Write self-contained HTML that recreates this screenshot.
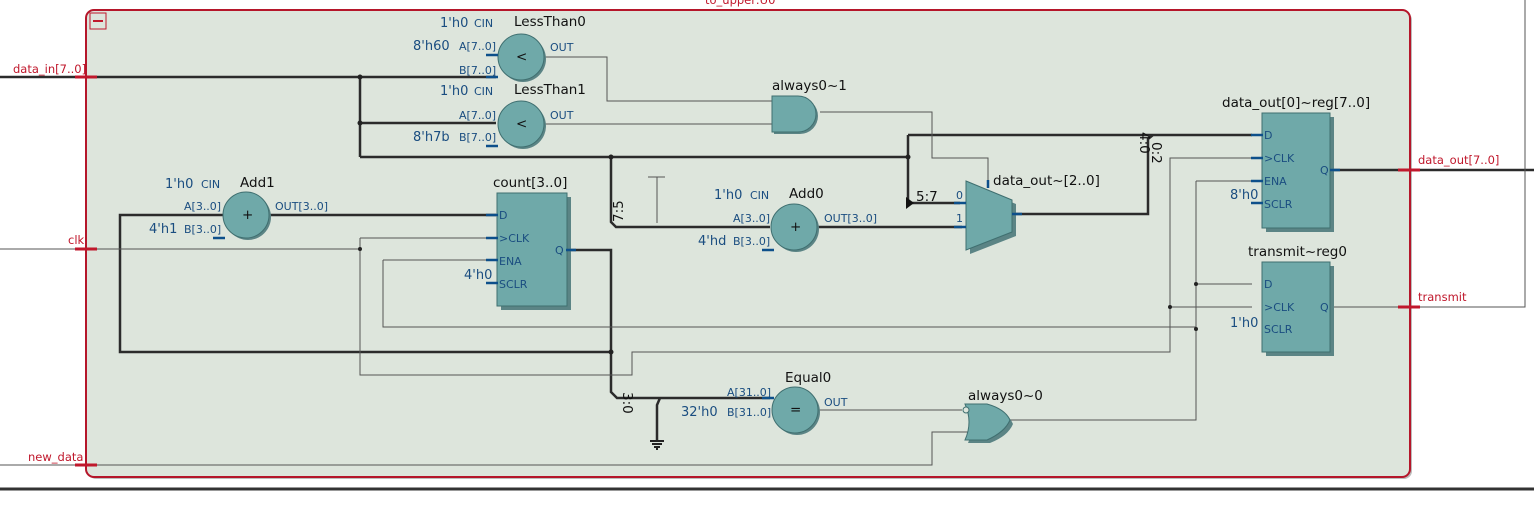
<!DOCTYPE html>
<html><head><meta charset="utf-8"><style>
html,body{margin:0;padding:0;background:#fff;}
svg{display:block;font-family:"DejaVu Sans","Liberation Sans",sans-serif;}
.t{font-size:13px;fill:#1a4d80}
.s{font-size:11px;fill:#1a4d80}
.n{font-size:13.5px;fill:#111}
.r{font-size:11.5px;fill:#c0182c}
.th{stroke:#2b2b2b;stroke-width:2.5;fill:none}
.tn{stroke:#555;stroke-width:1;fill:none}
.blk{fill:#6fa9a9;stroke:#3f6f70;stroke-width:1}
.sh{fill:#5b8485}
.pin{stroke:#0d4f8a;stroke-width:2.5}
</style></head><body>
<svg width="1534" height="505" viewBox="0 0 1534 505">
<rect x="88" y="12" width="1324" height="467" rx="8" fill="#bcbcbc"/>
<rect x="86" y="10" width="1324" height="467" rx="8" fill="#dde5dc" stroke="#b5162a" stroke-width="2"/>
<text x="705" y="4" class="r" font-size="12">to_upper:U0</text>
<rect x="90" y="13" width="16" height="16" fill="none" stroke="#c0182c" stroke-width="1"/>
<line x1="93" y1="21" x2="103" y2="21" stroke="#c0182c" stroke-width="2"/>
<line x1="0" y1="489" x2="1534" y2="489" stroke="#333" stroke-width="3"/>

<!-- thick wires -->
<path class="th" d="M0 77 H496 M360 77 V157 M360 123 H496 M360 157 H908 M908 135 H1252 M908 135 V203 H960 M611 157 V222 L616 227 H770 M818 227 H962 M1015 214 H1148 V139 L1153 135"/>
<path class="th" d="M270 215 H496 M228 215 H120 V352 H611 M570 250 H611 V392 L617 398 H770 M660 398 L657 405 V440 M1330 170 H1534"/>
<polygon points="906,197 914,203 906,209" fill="#111"/>
<!-- thin wires -->
<path class="tn" d="M0 249 H360 M360 238 H496 M360 238 V375 H632 V352 H1170 V158 H1252 M1170 307 H1252 M383 260 H496 M383 260 V327 H1196 M1196 181 H1252 M1196 181 V420 H1010 M1196 284 H1252"/>
<path class="tn" d="M545 57 H607 V101 H772 M545 124 H772 M820 112 H932 V158 H988 V185 M648 177 H665 M657 177 V223 M818 410 H962 M0 465 H932 V432 H968 M1330 307 H1525 V0"/>
<circle cx="360" cy="77" r="2.5" fill="#222"/><circle cx="360" cy="123" r="2.5" fill="#222"/>
<circle cx="611" cy="157" r="2.5" fill="#222"/><circle cx="908" cy="157" r="2.5" fill="#222"/>
<circle cx="611" cy="352" r="2.5" fill="#222"/><circle cx="360" cy="249" r="2" fill="#222"/>
<circle cx="1170" cy="307" r="2" fill="#222"/><circle cx="1196" cy="284" r="2" fill="#222"/><circle cx="1196" cy="329" r="2" fill="#222"/>
<!-- ground -->
<path d="M650 441 H664 M652 444 H662 M654 447 H660 M657 447 V450" stroke="#222" stroke-width="2"/>

<!-- ports -->
<g stroke="#c0182c" stroke-width="3">
<line x1="75" y1="77" x2="97" y2="77"/><line x1="75" y1="249" x2="97" y2="249"/><line x1="75" y1="465" x2="97" y2="465"/>
<line x1="1398" y1="170" x2="1420" y2="170"/><line x1="1398" y1="307" x2="1420" y2="307"/></g>
<text x="13" y="73" class="r">data_in[7..0]</text>
<text x="68" y="244" class="r">clk</text>
<text x="28" y="461" class="r">new_data</text>
<text x="1418" y="164" class="r">data_out[7..0]</text>
<text x="1418" y="301" class="r">transmit</text>

<!-- LessThan0 -->
<circle cx="523" cy="59" r="23" class="sh"/><circle cx="521" cy="57" r="23" class="blk"/>
<text x="516" y="61" class="n" font-size="12">&lt;</text>
<text x="514" y="26" class="n">LessThan0</text>
<text x="440" y="27" class="t">1'h0</text><text x="474" y="27" class="s">CIN</text>
<text x="413" y="50" class="t">8'h60</text><text x="459" y="50" class="s">A[7..0]</text>
<text x="459" y="74" class="s">B[7..0]</text>
<text x="550" y="51" class="s">OUT</text>
<line x1="486" y1="55" x2="498" y2="55" class="pin"/><line x1="486" y1="77" x2="498" y2="77" class="pin"/>
<!-- LessThan1 -->
<circle cx="523" cy="126" r="23" class="sh"/><circle cx="521" cy="124" r="23" class="blk"/>
<text x="516" y="128" class="n" font-size="12">&lt;</text>
<text x="514" y="94" class="n">LessThan1</text>
<text x="440" y="95" class="t">1'h0</text><text x="474" y="95" class="s">CIN</text>
<text x="459" y="119" class="s">A[7..0]</text>
<text x="413" y="141" class="t">8'h7b</text><text x="459" y="141" class="s">B[7..0]</text>
<text x="550" y="119" class="s">OUT</text>
<line x1="486" y1="146" x2="498" y2="146" class="pin"/>

<!-- always0~1 AND -->
<path d="M774 98 H800 A18 18 0 0 1 800 134 H774 Z" class="sh"/>
<path d="M772 96 H798 A18 18 0 0 1 798 132 H772 Z" class="blk"/>
<text x="772" y="90" class="n">always0~1</text>

<!-- Add1 -->
<circle cx="248" cy="217" r="23" class="sh"/><circle cx="246" cy="215" r="23" class="blk"/>
<text x="242" y="219" class="n" font-size="12">+</text>
<text x="240" y="187" class="n">Add1</text>
<text x="165" y="188" class="t">1'h0</text><text x="201" y="188" class="s">CIN</text>
<text x="184" y="210" class="s">A[3..0]</text>
<text x="149" y="233" class="t">4'h1</text><text x="184" y="233" class="s">B[3..0]</text>
<text x="275" y="210" class="s">OUT[3..0]</text>
<line x1="213" y1="238" x2="225" y2="238" class="pin"/>

<!-- count -->
<rect x="501" y="197" width="70" height="113" class="sh"/>
<rect x="497" y="193" width="70" height="113" class="blk"/>
<text x="493" y="187" class="n">count[3..0]</text>
<text x="499" y="219" class="s">D</text><text x="499" y="242" class="s">&gt;CLK</text>
<text x="499" y="265" class="s">ENA</text><text x="499" y="288" class="s">SCLR</text>
<text x="555" y="254" class="s">Q</text>
<text x="464" y="279" class="t">4'h0</text>
<g class="pin"><line x1="486" y1="215" x2="498" y2="215"/><line x1="486" y1="238" x2="498" y2="238"/><line x1="486" y1="260" x2="498" y2="260"/><line x1="486" y1="283" x2="498" y2="283"/><line x1="566" y1="250" x2="576" y2="250"/></g>

<text transform="translate(623,222) rotate(-90)" class="n" font-size="10">7:5</text>
<text transform="translate(623,392) rotate(90)" class="n" font-size="10">3:0</text>

<!-- Add0 -->
<circle cx="796" cy="229" r="23" class="sh"/><circle cx="794" cy="227" r="23" class="blk"/>
<text x="790" y="231" class="n" font-size="12">+</text>
<text x="789" y="198" class="n">Add0</text>
<text x="714" y="199" class="t">1'h0</text><text x="750" y="199" class="s">CIN</text>
<text x="733" y="222" class="s">A[3..0]</text>
<text x="698" y="245" class="t">4'hd</text><text x="733" y="245" class="s">B[3..0]</text>
<text x="824" y="222" class="s">OUT[3..0]</text>
<line x1="762" y1="250" x2="774" y2="250" class="pin"/>

<!-- mux -->
<polygon points="970,185 1016,204 1016,236 970,254" class="sh"/>
<polygon points="966,181 1012,200 1012,232 966,250" class="blk"/>
<text x="993" y="185" class="n">data_out~[2..0]</text>
<text x="956" y="199" class="s">0</text><text x="956" y="222" class="s">1</text>
<text x="916" y="201" class="n" font-size="11">5:7</text>
<g class="pin"><line x1="954" y1="203" x2="966" y2="203"/><line x1="954" y1="227" x2="966" y2="227"/><line x1="1012" y1="214" x2="1022" y2="214"/><line x1="988" y1="180" x2="988" y2="188"/></g>
<text transform="translate(1140,132) rotate(90)" class="n" font-size="10">4:0</text>
<text transform="translate(1152,142) rotate(90)" class="n" font-size="10">0:2</text>

<!-- data_out reg -->
<rect x="1266" y="117" width="68" height="115" class="sh"/>
<rect x="1262" y="113" width="68" height="115" class="blk"/>
<text x="1222" y="107" class="n">data_out[0]~reg[7..0]</text>
<text x="1264" y="139" class="s">D</text><text x="1264" y="162" class="s">&gt;CLK</text>
<text x="1264" y="185" class="s">ENA</text><text x="1264" y="208" class="s">SCLR</text>
<text x="1320" y="174" class="s">Q</text>
<text x="1230" y="199" class="t">8'h0</text>
<g class="pin"><line x1="1251" y1="135" x2="1263" y2="135"/><line x1="1251" y1="158" x2="1263" y2="158"/><line x1="1251" y1="181" x2="1263" y2="181"/><line x1="1251" y1="203" x2="1263" y2="203"/><line x1="1330" y1="170" x2="1340" y2="170"/></g>

<!-- transmit reg -->
<rect x="1266" y="266" width="68" height="90" class="sh"/>
<rect x="1262" y="262" width="68" height="90" class="blk"/>
<text x="1248" y="256" class="n">transmit~reg0</text>
<text x="1264" y="288" class="s">D</text><text x="1264" y="311" class="s">&gt;CLK</text>
<text x="1264" y="333" class="s">SCLR</text>
<text x="1320" y="311" class="s">Q</text>
<text x="1230" y="327" class="t">1'h0</text>

<!-- Equal0 -->
<circle cx="797" cy="412" r="23" class="sh"/><circle cx="795" cy="410" r="23" class="blk"/>
<text x="790" y="414" class="n" font-size="12">=</text>
<text x="785" y="382" class="n">Equal0</text>
<text x="727" y="396" class="s">A[31..0]</text>
<text x="681" y="416" class="t">32'h0</text><text x="727" y="416" class="s">B[31..0]</text>
<text x="824" y="406" class="s">OUT</text>
<line x1="762" y1="398" x2="774" y2="398" class="pin"/><line x1="762" y1="421" x2="774" y2="421"/>

<!-- always0~0 OR -->
<path d="M968 407 H990 Q1008 412 1013 424 Q1008 436 990 443 H968 Q976 425 968 407Z" class="sh"/>
<path d="M965 404 H987 Q1005 409 1010 420 Q1005 432 987 440 H965 Q973 422 965 404Z" class="blk"/>
<circle cx="966" cy="410" r="3" fill="#dde5dc" stroke="#3f6f70"/>
<text x="968" y="400" class="n">always0~0</text>
</svg>
</body></html>
